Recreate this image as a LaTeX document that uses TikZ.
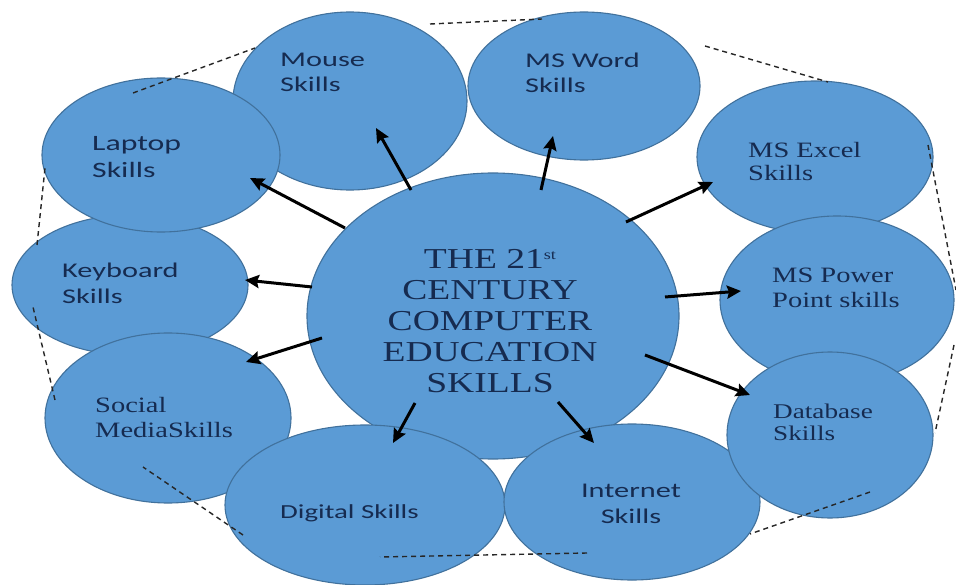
\documentclass[tikz,border=0pt]{standalone}
\usepackage{fontspec}
\usetikzlibrary{shapes.geometric,arrows.meta}
\newfontfamily\skillsans[FakeStretch=1.45]{Carlito}
\newfontfamily\skillserif[FakeStretch=1.3]{Liberation Serif}
\definecolor{bubble}{RGB}{91,155,213}
\definecolor{bubbleedge}{RGB}{65,113,156}
\definecolor{ink}{RGB}{22,43,80}
\tikzset{
  bubble/.style={ellipse, draw=bubbleedge, line width=1.1bp, fill=bubble, inner sep=0pt},
  tag/.style={inner sep=0pt, text=ink, align=left, anchor=base west},
  sanstag/.style={tag, font=\skillsans\fontsize{21}{26}\selectfont},
  seriftag/.style={tag, font=\skillserif\fontsize{22}{25}\selectfont},
  spoke/.style={line width=3bp, -{Stealth[length=14bp,width=13bp,inset=2bp]}},
  rim/.style={dash pattern=on 5bp off 4bp, line width=1.4bp, black!85}
}

\begin{document}
\begin{tikzpicture}[x=1bp,y=-1bp]
  \fill[white] (0,0) rectangle (956,585);
  \useasboundingbox (0,0) rectangle (956,585);

  \node[bubble, minimum width=234bp, minimum height=178bp] (mouse) at (350,101) {};
  \node[bubble, minimum width=236bp, minimum height=140bp] (keyboard) at (130,285) {};
  \node[bubble, minimum width=238bp, minimum height=154bp] (laptop) at (161,155) {};
  \node[bubble, minimum width=246bp, minimum height=170bp] (social) at (168,418) {};
  \node[bubble, minimum width=232bp, minimum height=148bp] (word) at (584,86) {};
  \node[bubble, minimum width=236bp, minimum height=152bp] (excel) at (815,157) {};
  \node[bubble, minimum width=234bp, minimum height=168bp] (power) at (837,300) {};
  \node[bubble, minimum width=372bp, minimum height=286bp] (hub) at (493,316) {};
  \node[bubble, minimum width=280bp, minimum height=160bp] (digital) at (365,505) {};
  \node[bubble, minimum width=256bp, minimum height=156bp] (internet) at (632,502) {};
  \node[bubble, minimum width=206bp, minimum height=166bp] (data) at (830,435) {};

  % base anchor sits on the last line
  \node[tag, align=center, anchor=base, font=\skillserif\fontsize{29}{31}\selectfont] (hub-txt) at (490,392)
    {THE 21\raisebox{9bp}{\fontsize{14}{14}\selectfont st}\\CENTURY\\COMPUTER\\EDUCATION\\SKILLS};
  \node[sanstag] (mouse-txt) at (280,92) {Mouse\\Skills};
  \node[sanstag] (word-txt) at (525,93) {MS Word\\Skills};
  \node[sanstag, font=\skillsans\fontsize{22}{28}\selectfont] (laptop-txt) at (92,178) {Laptop\\Skills};
  \node[sanstag] (keyboard-txt) at (62,303) {Keyboard\\Skills};
  \node[seriftag] (social-txt) at (95,437) {Social\\MediaSkills};
  \node[sanstag, font=\skillsans\fontsize{20}{26}\selectfont] (digital-txt) at (280,518) {Digital Skills};
  \node[sanstag, align=center, anchor=base] (internet-txt) at (631,523) {Internet\\Skills};
  \node[seriftag, font=\skillserif\fontsize{21}{22}\selectfont] (data-txt) at (773,440) {Database\\Skills};
  \node[seriftag] (power-txt) at (772,307) {MS Power\\Point skills};
  \node[seriftag, font=\skillserif\fontsize{22}{24}\selectfont] (excel-txt) at (748,181) {MS Excel\\Skills};

  \draw[spoke] ([shift={(-148,-88)}]hub.center) -- ([shift={(89,23)}]laptop.center);
  \draw[spoke] ([shift={(-82,-126)}]hub.center) -- ([shift={(26,27)}]mouse.center);
  \draw[spoke] ([shift={(48,-126)}]hub.center) -- ([shift={(-31,50)}]word.center);
  \draw[spoke] ([shift={(133,-94)}]hub.center) -- ([shift={(-102,25)}]excel.center);
  \draw[spoke] ([shift={(172,-19)}]hub.center) -- ([shift={(-96,-9)}]power.center);
  \draw[spoke] ([shift={(152,39)}]hub.center) -- ([shift={(-80,-40)}]data.center);
  \draw[spoke] ([shift={(65,86)}]hub.center) -- ([shift={(-38,-59)}]internet.center);
  \draw[spoke] ([shift={(-78,87)}]hub.center) -- ([shift={(28,-62)}]digital.center);
  \draw[spoke] ([shift={(-171,22)}]hub.center) -- ([shift={(78,-56)}]social.center);
  \draw[spoke] ([shift={(-181,-29)}]hub.center) -- ([shift={(115,-5)}]keyboard.center);

  \draw[rim] (133,93) -- (255,48);
  \draw[rim] (430,24) -- (542,19);
  \draw[rim] (705,46) -- (828,82);
  \draw[rim] (928,145) -- (956,290);
  \draw[rim] (954,345) -- (935,433);
  \draw[rim] (870,492) -- (750,534);
  \draw[rim] (587,553) -- (380,557);
  \draw[rim] (243,535) -- (143,467);
  \draw[rim] (55,400) -- (33,307);
  \draw[rim] (37,245) -- (45,168);
\end{tikzpicture}
\end{document}
